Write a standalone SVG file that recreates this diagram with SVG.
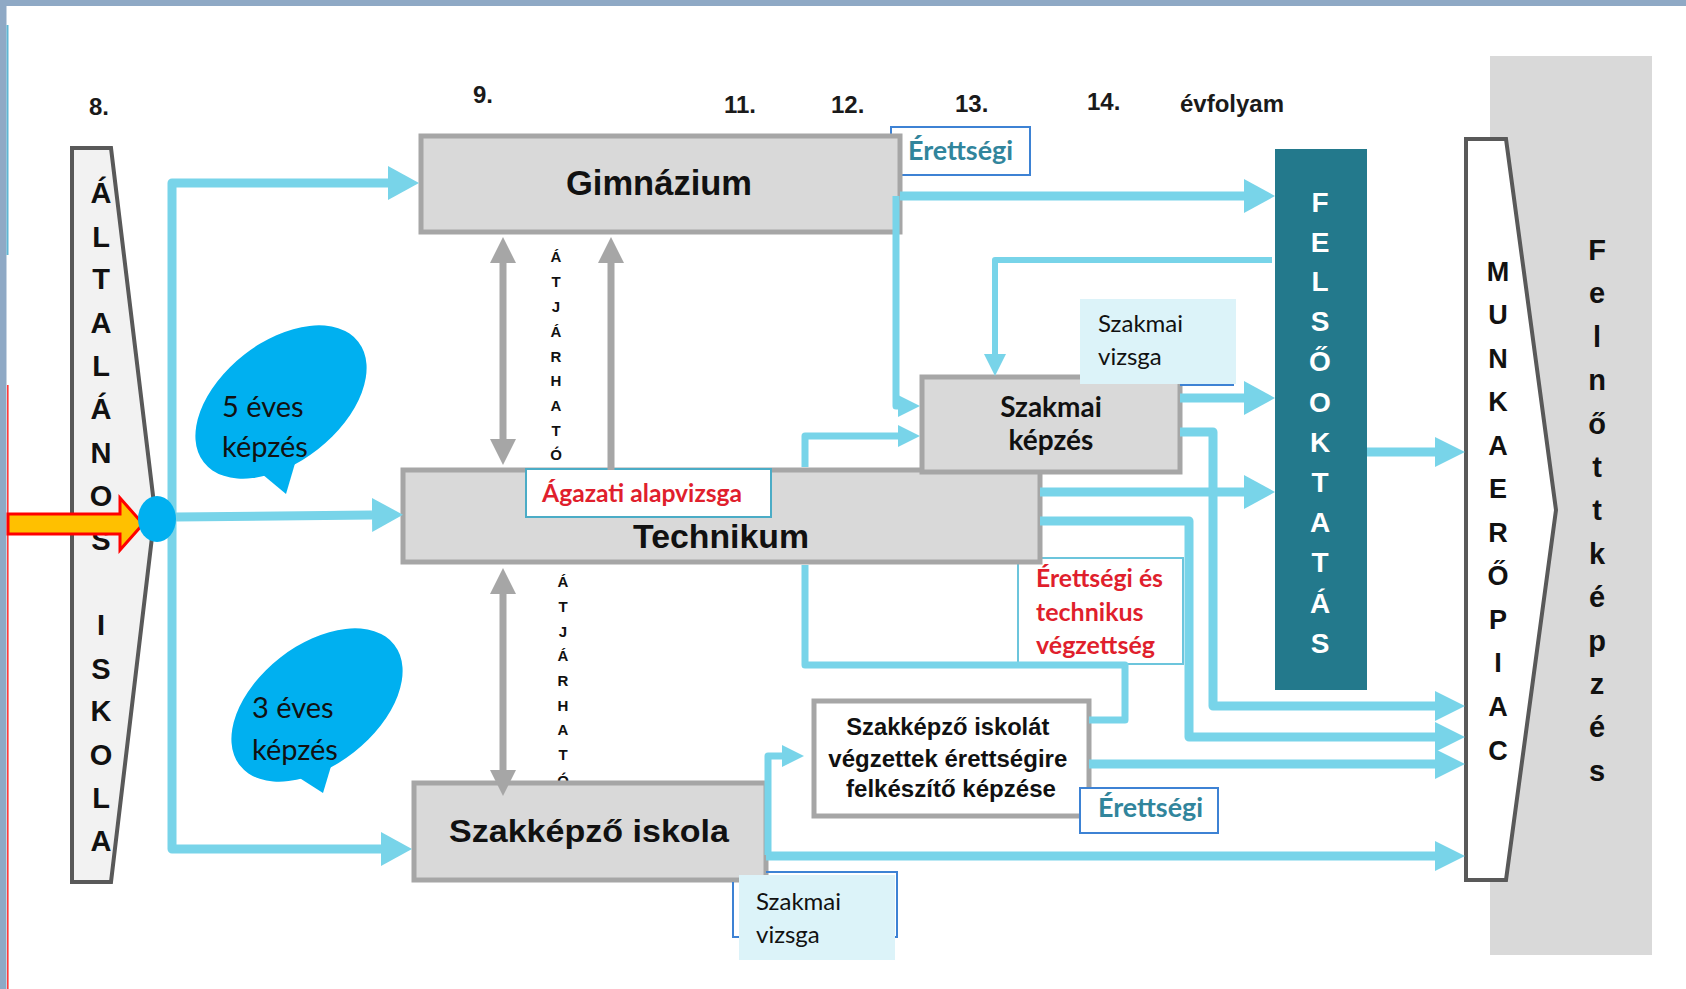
<svg xmlns="http://www.w3.org/2000/svg" width="1686" height="989" viewBox="0 0 1686 989">
<style>
.box{fill:#d9d9d9;stroke:#a6a6a6;stroke-width:5}
.c{fill:none;stroke:#78d4e9;stroke-width:9;stroke-linejoin:round}
.ct{stroke-width:7}
.cs{stroke-width:6}
.ga{fill:none;stroke:#a6a6a6;stroke-width:7}
.num{font-family:"Liberation Sans",Arial,sans-serif;font-weight:bold;font-size:24px;fill:#1a1a1a}
.big{font-family:"Liberation Sans",Arial,sans-serif;font-weight:bold;fill:#111;text-anchor:middle}
.vert{font-family:"Liberation Sans",Arial,sans-serif;font-weight:bold;text-anchor:middle}
.cal{font-family:Lato,"Open Sans",sans-serif}
.red{fill:#e01f2d;font-weight:bold}
.teal{fill:#31859c;font-weight:bold}
</style>
<defs>
<marker id="ah" markerUnits="userSpaceOnUse" markerWidth="32" markerHeight="36" viewBox="0 -18 32 36" refX="0" refY="0" orient="auto"><path d="M0,-17 L31,0 L0,17 z" fill="#78d4e9"/></marker>
<marker id="ahm" markerUnits="userSpaceOnUse" markerWidth="31" markerHeight="32" viewBox="0 -16 31 32" refX="0" refY="0" orient="auto"><path d="M0,-15 L30,0 L0,15 z" fill="#78d4e9"/></marker>
<marker id="ahs" markerUnits="userSpaceOnUse" markerWidth="24" markerHeight="24" viewBox="0 -12 24 24" refX="0" refY="0" orient="auto"><path d="M0,-11 L22,0 L0,11 z" fill="#78d4e9"/></marker>
<marker id="gh" markerUnits="userSpaceOnUse" markerWidth="27" markerHeight="28" viewBox="0 -14 27 28" refX="0" refY="0" orient="auto-start-reverse"><path d="M0,-13 L26,0 L0,13 z" fill="#a6a6a6"/></marker>
</defs>

<rect x="0" y="0" width="1686" height="989" fill="#ffffff"/>
<g id="frame">
<rect x="0" y="0" width="1686" height="6" fill="#8fa9c5"/>
<rect x="0" y="0" width="6.5" height="989" fill="#8fa9c5"/>
<rect x="6.5" y="25" width="2" height="230" fill="#5fb6d3"/>
<rect x="7" y="385" width="1.6" height="604" fill="#ff3b3b"/>
</g>

<g id="grades">
<text class="num" x="89" y="115">8.</text>
<text class="num" x="473" y="103">9.</text>
<text class="num" x="724" y="113">11.</text>
<text class="num" x="831" y="113">12.</text>
<text class="num" x="955" y="112">13.</text>
<text class="num" x="1087" y="110">14.</text>
<text class="num" x="1180" y="112">évfolyam</text>
</g>

<g id="felnottkepzes">
<rect x="1490" y="56" width="162" height="899" fill="#d9d9d9"/>
<text class="vert" font-size="29" fill="#111">
<tspan x="1597" y="260">F</tspan><tspan x="1597" y="303">e</tspan><tspan x="1597" y="347">l</tspan><tspan x="1597" y="390">n</tspan><tspan x="1597" y="434">ő</tspan><tspan x="1597" y="477">t</tspan><tspan x="1597" y="520">t</tspan><tspan x="1597" y="564">k</tspan><tspan x="1597" y="607">é</tspan><tspan x="1597" y="651">p</tspan><tspan x="1597" y="694">z</tspan><tspan x="1597" y="737">é</tspan><tspan x="1597" y="781">s</tspan>
</text>
</g>

<g id="munkaeropiac">
<polygon points="1466,139 1506,139 1556,510 1506,880 1466,880" fill="#ffffff" stroke="#595959" stroke-width="4"/>
<text class="vert" font-size="27" fill="#111">
<tspan x="1498" y="281">M</tspan><tspan x="1498" y="324">U</tspan><tspan x="1498" y="368">N</tspan><tspan x="1498" y="411">K</tspan><tspan x="1498" y="455">A</tspan><tspan x="1498" y="498">E</tspan><tspan x="1498" y="542">R</tspan><tspan x="1498" y="585">Ő</tspan><tspan x="1498" y="629">P</tspan><tspan x="1498" y="672">I</tspan><tspan x="1498" y="716">A</tspan><tspan x="1498" y="760">C</tspan>
</text>
</g>

<g id="felsooktatas">
<rect x="1275" y="149" width="92" height="541" fill="#23798c"/>
<text class="vert" font-size="28" fill="#ffffff">
<tspan x="1320" y="212">F</tspan><tspan x="1320" y="252">E</tspan><tspan x="1320" y="291">L</tspan><tspan x="1320" y="331">S</tspan><tspan x="1320" y="371">Ő</tspan><tspan x="1320" y="412">O</tspan><tspan x="1320" y="452">K</tspan><tspan x="1320" y="492">T</tspan><tspan x="1320" y="532">A</tspan><tspan x="1320" y="572">T</tspan><tspan x="1320" y="613">Á</tspan><tspan x="1320" y="653">S</tspan>
</text>
</g>

<g id="altalanos-iskola">
<polygon points="72,148 111,148 155,512 111,882 72,882" fill="#f2f2f2" stroke="#595959" stroke-width="4"/>
<text class="vert" font-size="29" fill="#111">
<tspan x="101" y="203">Á</tspan><tspan x="101" y="247">L</tspan><tspan x="101" y="289">T</tspan><tspan x="101" y="333">A</tspan><tspan x="101" y="376">L</tspan><tspan x="101" y="419">Á</tspan><tspan x="101" y="463">N</tspan><tspan x="101" y="506">O</tspan><tspan x="101" y="550">S</tspan><tspan x="101" y="635">I</tspan><tspan x="101" y="679">S</tspan><tspan x="101" y="721">K</tspan><tspan x="101" y="765">O</tspan><tspan x="101" y="808">L</tspan><tspan x="101" y="851">A</tspan>
</text>
</g>

<g id="bubble-5">
<ellipse cx="281" cy="402" rx="98" ry="60" transform="rotate(-38 281 402)" fill="#00b0f0"/>
<polygon points="262,474 296,460 286,494" fill="#00b0f0"/>
<text class="cal" font-size="29" fill="#111"><tspan x="222" y="417">5 éves</tspan><tspan x="222" y="457">képzés</tspan></text>
</g>

<g id="bubble-3">
<ellipse cx="317" cy="705" rx="98" ry="60" transform="rotate(-38 317 705)" fill="#00b0f0"/>
<polygon points="298,777 332,763 323,793" fill="#00b0f0"/>
<text class="cal" font-size="29" fill="#111"><tspan x="252" y="718">3 éves</tspan><tspan x="252" y="760">képzés</tspan></text>
</g>

<g id="erettsegi-top">
<rect x="891" y="127" width="139" height="48" fill="#ffffff" stroke="#3d82d4" stroke-width="2"/>
<text class="cal teal" x="908" y="160" font-size="26" textLength="105" lengthAdjust="spacingAndGlyphs">Érettségi</text>
</g>

<g id="gimnazium">
<rect class="box" x="421" y="136" width="479" height="96"/>
<text class="big" x="659" y="195" font-size="35" textLength="186" lengthAdjust="spacingAndGlyphs">Gimnázium</text>
</g>

<g id="erettsegi-technikus">
<rect x="1018" y="558" width="165" height="106" fill="#ffffff" stroke="#6cc5dc" stroke-width="2"/>
<text class="cal red" font-size="25">
<tspan x="1036" y="587" textLength="127" lengthAdjust="spacingAndGlyphs">Érettségi és</tspan>
<tspan x="1036" y="621">technikus</tspan>
<tspan x="1036" y="654">végzettség</tspan>
</text>
</g>

<g id="technikum">
<rect class="box" x="403" y="470" width="637" height="92"/>
<text class="big" x="721" y="548" font-size="34" textLength="176" lengthAdjust="spacingAndGlyphs">Technikum</text>
</g>

<g id="agazati-alapvizsga">
<rect x="526" y="469" width="245" height="48" fill="#ffffff" stroke="#4bacc6" stroke-width="2"/>
<text class="cal red" x="542" y="502" font-size="25" textLength="200" lengthAdjust="spacingAndGlyphs">Ágazati alapvizsga</text>
</g>

<g id="atjarhato-labels">
<text class="vert" font-size="15" fill="#111">
<tspan x="556" y="262">Á</tspan><tspan x="556" y="287">T</tspan><tspan x="556" y="312">J</tspan><tspan x="556" y="337">Á</tspan><tspan x="556" y="362">R</tspan><tspan x="556" y="386">H</tspan><tspan x="556" y="411">A</tspan><tspan x="556" y="436">T</tspan><tspan x="556" y="460">Ó</tspan>
</text>
<text class="vert" font-size="15" fill="#111">
<tspan x="563" y="587">Á</tspan><tspan x="563" y="612">T</tspan><tspan x="563" y="637">J</tspan><tspan x="563" y="661">Á</tspan><tspan x="563" y="686">R</tspan><tspan x="563" y="711">H</tspan><tspan x="563" y="735">A</tspan><tspan x="563" y="760">T</tspan><tspan x="563" y="786">Ó</tspan>
</text>
</g>

<g id="szakkepzo-iskola">
<rect class="box" x="414" y="783" width="352" height="97"/>
<text class="big" x="589" y="842" font-size="31" textLength="280" lengthAdjust="spacingAndGlyphs">Szakképző iskola</text>
</g>

<g id="szakmai-vizsga-lower">
<path d="M766,872 H897 V937 H733 V882" fill="none" stroke="#3d82d4" stroke-width="2"/>
<rect x="739" y="875" width="156" height="85" fill="#dcf3f9"/>
<text class="cal" font-size="24" fill="#111"><tspan x="756" y="910">Szakmai</tspan><tspan x="756" y="943">vizsga</tspan></text>
</g>

<g id="szakmai-kepzes">
<rect class="box" x="922" y="377" width="258" height="95"/>
<text class="cal" font-size="28" font-weight="bold" fill="#111" text-anchor="middle"><tspan x="1051" y="417">Szakmai</tspan><tspan x="1051" y="450">képzés</tspan></text>
</g>

<g id="szakmai-vizsga-upper">
<rect x="1080" y="299" width="156" height="85" fill="#dcf3f9"/>
<line x1="1180" y1="385" x2="1234" y2="385" stroke="#3d82d4" stroke-width="2"/>
<text class="cal" font-size="24" fill="#111"><tspan x="1098" y="332">Szakmai</tspan><tspan x="1098" y="365">vizsga</tspan></text>
</g>

<g id="szakkepzo-erettsegi">
<rect x="814" y="701" width="275" height="115" fill="#ffffff" stroke="#a6a6a6" stroke-width="5"/>
<text font-family="Liberation Sans, Arial, sans-serif" font-weight="bold" font-size="23" fill="#111" text-anchor="middle">
<tspan x="951" y="735" textLength="203" lengthAdjust="spacingAndGlyphs">Szakképző iskolát</tspan>
<tspan x="951" y="767" textLength="239" lengthAdjust="spacingAndGlyphs">végzettek érettségire</tspan>
<tspan x="951" y="797" textLength="210" lengthAdjust="spacingAndGlyphs">felkészítő képzése</tspan>
</text>
</g>

<g id="erettsegi-lower">
<rect x="1080" y="788" width="138" height="45" fill="#ffffff" stroke="#3d82d4" stroke-width="2"/>
<text class="cal teal" x="1098" y="817" font-size="26" textLength="105" lengthAdjust="spacingAndGlyphs">Érettségi</text>
</g>

<g id="connectors">
<path class="c" d="M172,520 L172,183 L388,183" marker-end="url(#ah)"/>
<path class="c" d="M172,520 L172,849 L381,849" marker-end="url(#ah)"/>
<path class="c" d="M176,517 L372,515" marker-end="url(#ah)"/>
<path class="c" d="M900,196 L1244,196" marker-end="url(#ah)"/>
<path class="c ct" d="M896,196 L896,406 L898,406" marker-end="url(#ahs)"/>
<path class="c cs" d="M1272,260 L995,260 L995,354" marker-end="url(#ahs)"/>
<path class="c" d="M1180,398 L1244,398" marker-end="url(#ah)"/>
<path class="c" d="M1180,432 L1213,432 L1213,706 L1435,706" marker-end="url(#ahm)"/>
<path class="c" d="M1040,492 L1244,492" marker-end="url(#ah)"/>
<path class="c" d="M1040,521 L1189,521 L1189,737 L1435,737" marker-end="url(#ahm)"/>
<path class="c ct" d="M1089,720 L1125,720 L1125,665 L805,665 L805,565 M805,467 L805,436 L898,436" marker-end="url(#ahs)"/>
<path class="c" d="M1089,764 L1435,764" marker-end="url(#ahm)"/>
<path class="c ct" d="M768,855 L768,756 L782,756" marker-end="url(#ahs)"/>
<path class="c" d="M766,856 L1435,856" marker-end="url(#ahm)"/>
<path class="c" d="M1367,452 L1435,452" marker-end="url(#ahm)"/>
<path class="ga" d="M503,263 L503,439" marker-start="url(#gh)" marker-end="url(#gh)"/>
<path class="ga" d="M611,470 L611,263" marker-end="url(#gh)"/>
<path class="ga" d="M503,594 L503,770" marker-start="url(#gh)" marker-end="url(#gh)"/>
</g>

<g id="entry">
<polygon points="8,514 120,514 120,498 143,524 120,550 120,534 8,534" fill="#ffc000" stroke="#ff0000" stroke-width="3" stroke-linejoin="miter"/>
<ellipse cx="157" cy="519" rx="19" ry="23" fill="#00b0f0"/>
</g>
</svg>
